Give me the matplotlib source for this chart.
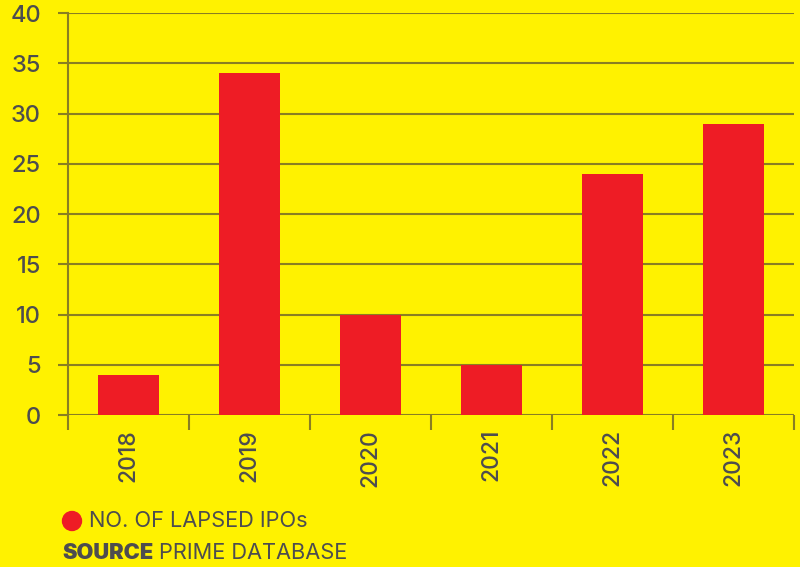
import matplotlib.pyplot as plt
import numpy as np

years = ['2018', '2019', '2020', '2021', '2022', '2023']
lapsed_ipos = [4, 34, 10, 5, 24, 29]
y_ticks = [0, 5, 10, 15, 20, 25, 30, 35, 40]

bg = '#fff200'
red = '#ee1c25'
line_col = '#8a7e22'
text_col = '#4d4d4f'

plt.rcParams['font.family'] = ['Inter', 'DejaVu Sans']

fig = plt.figure(figsize=(8, 5.67), dpi=100, facecolor=bg)
ax = fig.add_axes([0.085, 0.268, 0.9075, 0.709])
ax.set_facecolor(bg)

x = np.arange(len(years))
ax.bar(x, lapsed_ipos, width=0.5, color=red, zorder=3)

ax.set_xlim(-0.5, len(years) - 0.5)
ax.set_ylim(0, 40)
ax.set_yticks(y_ticks)
ax.yaxis.grid(True, color=line_col, linewidth=1.5, zorder=0)
ax.set_axisbelow(True)

# year labels at bar centres, tick marks on the category boundaries
ax.set_xticks(x)
ax.set_xticklabels(years, rotation=90, fontsize=16.5, color=text_col,
                   fontweight='medium')
ax.set_xticks(np.arange(-0.5, len(years)), minor=True)
ax.tick_params(axis='x', which='major', length=0, pad=10)
ax.tick_params(axis='x', which='minor', length=11, width=1.5, color=line_col)
ax.tick_params(axis='y', length=7.5, width=1.5, color=line_col, pad=12,
               labelsize=17, labelcolor=text_col)
for lbl in ax.get_yticklabels():
    lbl.set_fontweight('medium')

for side in ['top', 'right', 'bottom']:
    ax.spines[side].set_visible(False)
ax.spines['left'].set_color(line_col)
ax.spines['left'].set_linewidth(1.5)

# legend and source line
fig.patches.append(plt.Circle((72, 567 - 521), 9.5, color=red,
                              transform=None, figure=fig))
fig.text(89 / 800, 1 - 521 / 567, 'NO. OF LAPSED IPOs', fontsize=15.7,
         color=text_col, va='center', ha='left')
src = fig.text(62 / 800, 1 - 553 / 567, 'SOURCE', fontsize=15.7,
               fontweight='black', color=text_col, va='center', ha='left')
ax.annotate('PRIME DATABASE', xy=(1, 0.5), xycoords=src,
            xytext=(4, 0), textcoords='offset points', fontsize=15.7,
            color=text_col, va='center', ha='left', annotation_clip=False)

fig.savefig('out.png', dpi=100, facecolor=bg)
